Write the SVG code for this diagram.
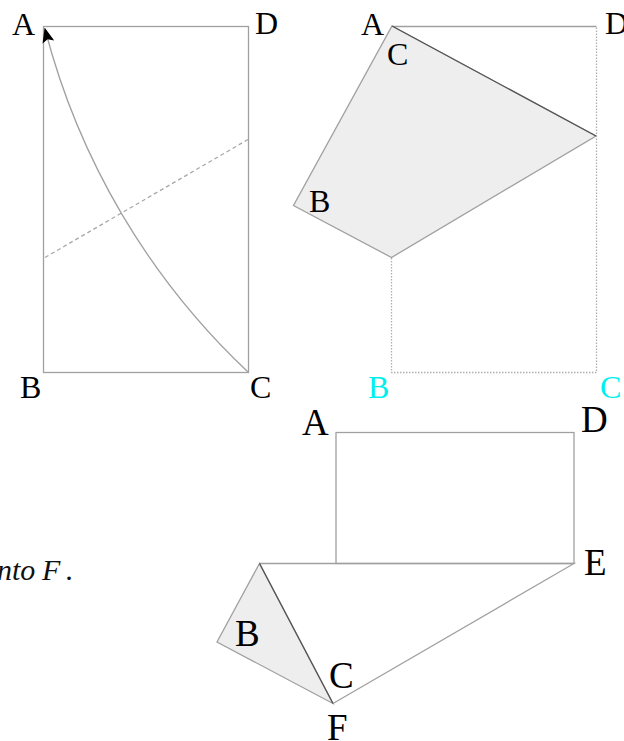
<svg xmlns="http://www.w3.org/2000/svg" width="624" height="741" viewBox="0 0 624 741">
<style>
.lbl{font-family:"Liberation Serif","Times New Roman",serif;font-size:32px;fill:#000}
.big{font-size:37px}
.cy{fill:#00f0f0}
.edge{fill:none;stroke:#a0a0a0;stroke-width:1.3}
.fold{fill:none;stroke:#555;stroke-width:1.3}
.dot{fill:none;stroke:#b0b0b0;stroke-width:1.3;stroke-dasharray:1.5 1.5}
.dash{fill:none;stroke:#a8a8a8;stroke-width:1.3;stroke-dasharray:4 3}
.shade{fill:#eeeeee;stroke:#a0a0a0;stroke-width:1.3}
</style>
<defs>
<marker id="ah" viewBox="0 0 10 10" refX="9" refY="5" markerWidth="15" markerHeight="15" markerUnits="userSpaceOnUse" orient="auto">
<path d="M0,1 L10,5 L0,9 L2,5 z" fill="#000"/>
</marker>
</defs>
<rect width="624" height="741" fill="#fff"/>
<g id="fig1">
<rect x="43.5" y="26.5" width="205" height="346" class="edge"/>
<line x1="45" y1="257.5" x2="248" y2="139.5" class="dash"/>
<path d="M248,372 A719,719 0 0,1 45,29" class="edge" stroke="#999" marker-end="url(#ah)"/>
<text class="lbl" x="12" y="35">A</text>
<text class="lbl" x="255" y="34">D</text>
<text class="lbl" x="20" y="398">B</text>
<text class="lbl" x="250" y="398">C</text>
</g>
<g id="fig2">
<polyline points="391.5,258 391.5,372.5 596.5,372.5 596.5,26.5" class="dot"/>
<line x1="392" y1="26.5" x2="596.5" y2="26.5" class="edge"/>
<polygon points="392,26 596,136 391.5,257.5 293.5,205.5" class="shade"/>
<line x1="392" y1="26" x2="596" y2="136" class="fold"/>
<text class="lbl" x="361" y="35">A</text>
<text class="lbl" x="387" y="65">C</text>
<text class="lbl" x="605" y="34">D</text>
<text class="lbl" x="309" y="212">B</text>
<text class="lbl cy" x="368" y="398">B</text>
<text class="lbl cy" x="600" y="398">C</text>
</g>
<g id="fig3">
<rect x="336" y="432.5" width="238" height="131" class="edge"/>
<polygon points="259.5,563.5 217,642 333,703.5" class="shade"/>
<polyline points="259.5,563.5 574,563.5 333,703.5" class="edge"/>
<line x1="259.5" y1="563.5" x2="333" y2="703.5" class="fold"/>
<text class="lbl big" x="302" y="435">A</text>
<text class="lbl big" x="581" y="432">D</text>
<text class="lbl big" x="584" y="575">E</text>
<text class="lbl big" x="235" y="646">B</text>
<text class="lbl big" x="329" y="688">C</text>
<text class="lbl big" x="327" y="740">F</text>
</g>
<text x="-3" y="580" font-family="'Liberation Serif', 'Times New Roman', serif" font-style="italic" font-size="30" fill="#111">nto <tspan x="42">F</tspan><tspan x="66">.</tspan></text>
</svg>
